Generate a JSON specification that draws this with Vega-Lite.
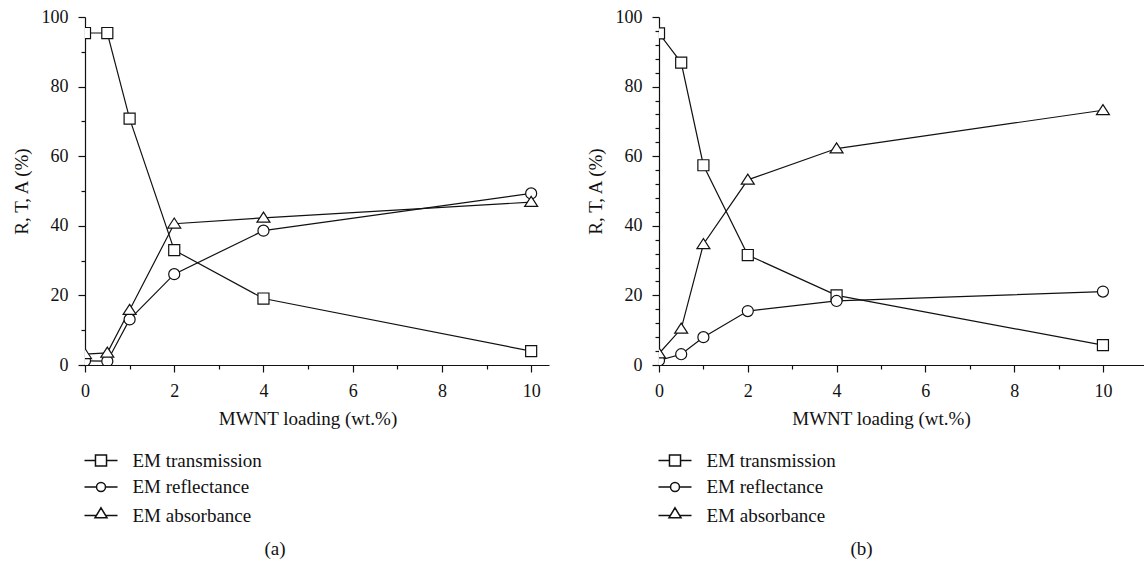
{
  "$schema": "https://vega.github.io/schema/vega-lite/v6.json",
  "padding": {"left": 12, "top": 8, "right": 0, "bottom": 0},
  "background": "white",
  "spacing": 37,
  "config": {
    "view": {"stroke": null},
    "font": "Liberation Serif",
    "axis": {
      "grid": false,
      "domainColor": "#111",
      "domainWidth": 1.2,
      "tickColor": "#111",
      "tickWidth": 1.2,
      "labelColor": "#111",
      "labelFont": "Liberation Serif",
      "labelFontSize": 18,
      "titleColor": "#111",
      "titleFont": "Liberation Serif",
      "titleFontSize": 19,
      "titleFontWeight": "normal"
    },
    "legend": {
      "labelFont": "Liberation Serif",
      "labelFontSize": 19,
      "labelColor": "#111"
    },
    "title": {"font": "Liberation Serif", "fontSize": 19, "fontWeight": "normal", "color": "#111"}
  },
  "resolve": {"scale": {"shape": "independent"}, "legend": {"shape": "independent"}},
  "hconcat": [
    {
      "width": 464,
      "height": 348,
      "title": {"text": "(a)", "orient": "bottom", "anchor": "middle", "dx": -42, "offset": 14},
      "data": {"values": [
        {"x": 0, "v": 95.4, "series": "EM transmission"},
        {"x": 0.5, "v": 95.4, "series": "EM transmission"},
        {"x": 1, "v": 70.8, "series": "EM transmission"},
        {"x": 2, "v": 33.0, "series": "EM transmission"},
        {"x": 4, "v": 19.1, "series": "EM transmission"},
        {"x": 10, "v": 4.0, "series": "EM transmission"},
        {"x": 0, "v": 1.2, "series": "EM reflectance"},
        {"x": 0.5, "v": 1.1, "series": "EM reflectance"},
        {"x": 1, "v": 13.1, "series": "EM reflectance"},
        {"x": 2, "v": 26.1, "series": "EM reflectance"},
        {"x": 4, "v": 38.6, "series": "EM reflectance"},
        {"x": 10, "v": 49.3, "series": "EM reflectance"},
        {"x": 0, "v": 3.1, "series": "EM absorbance"},
        {"x": 0.5, "v": 3.5, "series": "EM absorbance"},
        {"x": 1, "v": 15.8, "series": "EM absorbance"},
        {"x": 2, "v": 40.6, "series": "EM absorbance"},
        {"x": 4, "v": 42.3, "series": "EM absorbance"},
        {"x": 10, "v": 46.8, "series": "EM absorbance"}
      ]},
      "resolve": {"axis": {"x": "independent", "y": "independent"}, "scale": {"shape": "independent"}, "legend": {"shape": "independent"}},
      "layer": [
        {
          "mark": {"type": "line", "color": "#111", "strokeWidth": 1.2, "clip": true},
          "encoding": {
            "x": {"field": "x", "type": "quantitative", "scale": {"domain": [0, 10.4], "nice": false, "zero": false},
              "axis": {"orient": "bottom", "title": "MWNT loading (wt.%)", "values": [0, 2, 4, 6, 8, 10], "tickSize": 7, "labelPadding": 10, "titlePadding": 9, "titleX": 222.5, "labelFlush": false}},
            "y": {"field": "v", "type": "quantitative", "scale": {"domain": [0, 100], "nice": false},
              "axis": {"orient": "left", "title": "R, T, A (%)", "values": [0, 20, 40, 60, 80, 100], "tickSize": 7, "labelPadding": 10, "titlePadding": 10}},
            "detail": {"field": "series", "type": "nominal"}
          }
        },
        {
          "mark": {"type": "point", "filled": true, "fill": "white", "stroke": "#111", "strokeWidth": 1.2, "opacity": 1, "size": 144, "clip": true},
          "encoding": {
            "x": {"field": "x", "type": "quantitative", "scale": {"domain": [0, 10.4], "nice": false, "zero": false},
              "axis": {"orient": "bottom", "title": null, "values": [1, 3, 5, 7, 9], "tickSize": 4, "labels": false, "domain": false}},
            "y": {"field": "v", "type": "quantitative", "scale": {"domain": [0, 100], "nice": false},
              "axis": {"orient": "left", "title": null, "values": [10, 30, 50, 70, 90], "tickSize": 4, "labels": false, "domain": false}},
            "shape": {"field": "series", "type": "nominal", "legend": null,
              "scale": {"domain": ["EM transmission", "EM reflectance", "EM absorbance"],
                "range": ["M-0.92,-0.92H0.92V0.92H-0.92Z", "M-0.92,0A0.92,0.92,0,1,1,0.92,0A0.92,0.92,0,1,1,-0.92,0Z", "M0,-0.95L1.08,0.72L-1.08,0.72Z"]}
            }
          }
        },
        {
          "mark": {"type": "point", "filled": false, "stroke": "#111", "strokeWidth": 1.2, "opacity": 0},
          "encoding": {
            "x": {"field": "x", "type": "quantitative", "scale": {"domain": [0, 10.4], "nice": false, "zero": false}, "axis": null},
            "y": {"field": "v", "type": "quantitative", "scale": {"domain": [0, 100], "nice": false}, "axis": null},
            "shape": {"field": "series", "type": "nominal",
              "scale": {"domain": ["EM transmission", "EM reflectance", "EM absorbance"],
                "range": ["M-2.36,0H-0.79M0.79,0H2.36M-0.79,-0.79H0.79V0.79H-0.79Z", "M-2.36,0H-0.64M0.64,0H2.36M-0.64,0A0.64,0.64,0,1,1,0.64,0A0.64,0.64,0,1,1,-0.64,0Z", "M-2.36,0H-0.66M0.66,0H2.36M0,-1.1L0.86,0.33L-0.86,0.33Z"]},
              "legend": {
                "orient": "none", "legendX": 6.5, "legendY": 434, "title": null,
                "symbolSize": 196, "symbolOpacity": 1, "labelOffset": 22, "rowPadding": 6.5
              }
            }
          }
        }
      ]
    },
    {
      "width": 491,
      "height": 348,
      "title": {"text": "(b)", "orient": "bottom", "anchor": "middle", "dx": -43, "offset": 14},
      "data": {"values": [
        {"x": 0, "v": 95.3, "series": "EM transmission"},
        {"x": 0.5, "v": 86.9, "series": "EM transmission"},
        {"x": 1, "v": 57.4, "series": "EM transmission"},
        {"x": 2, "v": 31.6, "series": "EM transmission"},
        {"x": 4, "v": 20.0, "series": "EM transmission"},
        {"x": 10, "v": 5.7, "series": "EM transmission"},
        {"x": 0, "v": 1.3, "series": "EM reflectance"},
        {"x": 0.5, "v": 3.1, "series": "EM reflectance"},
        {"x": 1, "v": 8.0, "series": "EM reflectance"},
        {"x": 2, "v": 15.5, "series": "EM reflectance"},
        {"x": 4, "v": 18.4, "series": "EM reflectance"},
        {"x": 10, "v": 21.1, "series": "EM reflectance"},
        {"x": 0, "v": 3.3, "series": "EM absorbance"},
        {"x": 0.5, "v": 10.4, "series": "EM absorbance"},
        {"x": 1, "v": 34.7, "series": "EM absorbance"},
        {"x": 2, "v": 53.2, "series": "EM absorbance"},
        {"x": 4, "v": 62.2, "series": "EM absorbance"},
        {"x": 10, "v": 73.2, "series": "EM absorbance"}
      ]},
      "resolve": {"axis": {"x": "independent", "y": "independent"}, "scale": {"shape": "independent"}, "legend": {"shape": "independent"}},
      "layer": [
        {
          "mark": {"type": "line", "color": "#111", "strokeWidth": 1.2, "clip": true},
          "encoding": {
            "x": {"field": "x", "type": "quantitative", "scale": {"domain": [0, 11.06], "nice": false, "zero": false},
              "axis": {"orient": "bottom", "title": "MWNT loading (wt.%)", "values": [0, 2, 4, 6, 8, 10], "tickSize": 7, "labelPadding": 10, "titlePadding": 9, "titleX": 222, "labelFlush": false}},
            "y": {"field": "v", "type": "quantitative", "scale": {"domain": [0, 100], "nice": false},
              "axis": {"orient": "left", "title": "R, T, A (%)", "values": [0, 20, 40, 60, 80, 100], "tickSize": 7, "labelPadding": 10, "titlePadding": 10}},
            "detail": {"field": "series", "type": "nominal"}
          }
        },
        {
          "mark": {"type": "point", "filled": true, "fill": "white", "stroke": "#111", "strokeWidth": 1.2, "opacity": 1, "size": 144, "clip": true},
          "encoding": {
            "x": {"field": "x", "type": "quantitative", "scale": {"domain": [0, 11.06], "nice": false, "zero": false},
              "axis": {"orient": "bottom", "title": null, "values": [1, 3, 5, 7, 9], "tickSize": 4, "labels": false, "domain": false}},
            "y": {"field": "v", "type": "quantitative", "scale": {"domain": [0, 100], "nice": false},
              "axis": {"orient": "left", "title": null, "values": [4, 8, 12, 16, 24, 28, 32, 36, 44, 48, 52, 56, 64, 68, 72, 76, 84, 88, 92, 96], "tickSize": 4, "labels": false, "domain": false}},
            "shape": {"field": "series", "type": "nominal", "legend": null,
              "scale": {"domain": ["EM transmission", "EM reflectance", "EM absorbance"],
                "range": ["M-0.92,-0.92H0.92V0.92H-0.92Z", "M-0.92,0A0.92,0.92,0,1,1,0.92,0A0.92,0.92,0,1,1,-0.92,0Z", "M0,-0.95L1.08,0.72L-1.08,0.72Z"]}
            }
          }
        },
        {
          "mark": {"type": "point", "filled": false, "stroke": "#111", "strokeWidth": 1.2, "opacity": 0},
          "encoding": {
            "x": {"field": "x", "type": "quantitative", "scale": {"domain": [0, 11.06], "nice": false, "zero": false}, "axis": null},
            "y": {"field": "v", "type": "quantitative", "scale": {"domain": [0, 100], "nice": false}, "axis": null},
            "shape": {"field": "series", "type": "nominal",
              "scale": {"domain": ["EM transmission", "EM reflectance", "EM absorbance"],
                "range": ["M-2.36,0H-0.79M0.79,0H2.36M-0.79,-0.79H0.79V0.79H-0.79Z", "M-2.36,0H-0.64M0.64,0H2.36M-0.64,0A0.64,0.64,0,1,1,0.64,0A0.64,0.64,0,1,1,-0.64,0Z", "M-2.36,0H-0.66M0.66,0H2.36M0,-1.1L0.86,0.33L-0.86,0.33Z"]},
              "legend": {
                "orient": "none", "legendX": 6.5, "legendY": 434, "title": null,
                "symbolSize": 196, "symbolOpacity": 1, "labelOffset": 22, "rowPadding": 6.5
              }
            }
          }
        }
      ]
    }
  ]
}
